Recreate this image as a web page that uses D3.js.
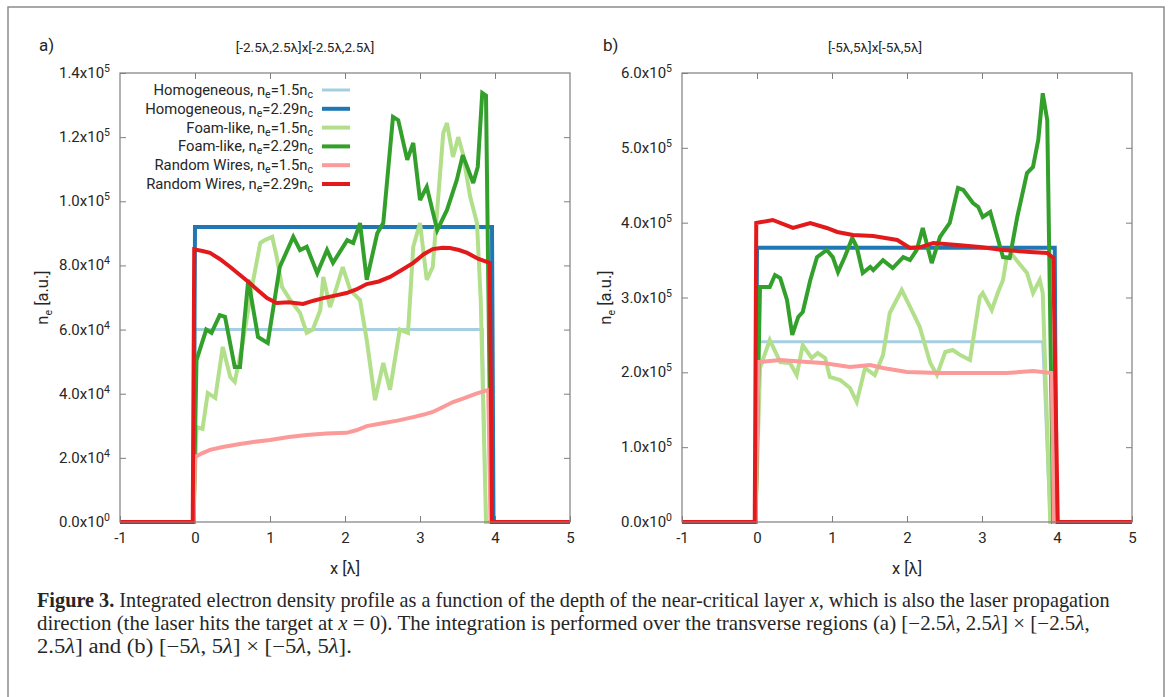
<!DOCTYPE html>
<html>
<head>
<meta charset="utf-8">
<script src="https://cdn.jsdelivr.net/npm/d3@7"></script>
<style>
  body { margin: 0; background: #fff; }
  svg text { font-family: Roboto, "Noto Sans", sans-serif; fill: #262626; }
</style>
</head>
<body>
<svg id="fig" width="1169" height="697"></svg>
<script>
// ---- shared axis settings ----
const xTicks = [-1, 0, 1, 2, 3, 4, 5];
const leftYTicks = [0, 2e4, 4e4, 6e4, 8e4, 1e5, 1.2e5, 1.4e5];
const rightYTicks = [0, 1e5, 2e5, 3e5, 4e5, 5e5, 6e5];

// legend labels: [prefix, density]
const seriesLabels = [
  ["Homogeneous", "1.5"],
  ["Homogeneous", "2.29"],
  ["Foam-like", "1.5"],
  ["Foam-like", "2.29"],
  ["Random Wires", "1.5"],
  ["Random Wires", "2.29"]
];
const seriesColors = ["#a6cee3", "#1f78b4", "#b2df8a", "#33a02c", "#fb9a99", "#e31a1c"];
const seriesWidths = [3, 4, 4, 4, 4, 4];

// ---- panel a) [-2.5λ,2.5λ]x[-2.5λ,2.5λ] : [x (λ), n_e] ----
const aHomo15 = [[-1,0],[-0.02,0],[0,60000],[3.83,60000],[3.88,0],[5,0]];
const aHomo229 = [[-1,0],[-0.02,0],[0,92000],[3.96,92000],[3.98,0],[5,0]];
const aFoam15 = [[-1,0],[-0.02,0],[0.02,29600],[0.1,29000],[0.17,40200],[0.27,38700],[0.37,54600],
  [0.47,45200],[0.53,43700],[0.63,55000],[0.76,73300],[0.87,87000],[0.93,87900],[1.03,88900],
  [1.09,82600],[1.16,73300],[1.27,69200],[1.4,65200],[1.49,59000],[1.57,60000],[1.67,66000],
  [1.71,76400],[1.8,67000],[1.89,73300],[1.97,79500],[2.07,72300],[2.2,69200],[2.29,56700],
  [2.4,38000],[2.51,49600],[2.6,41200],[2.73,60000],[2.84,59000],[2.91,85800],[3.0,93200],
  [3.09,75500],[3.17,79500],[3.31,121300],[3.36,124400],[3.44,113800],[3.51,120000],[3.57,115000],
  [3.67,101300],[3.76,93200],[3.81,69000],[3.88,0],[5,0]];
const aFoam229 = [[-1,0],[-0.02,0],[0.02,50500],[0.15,60000],[0.22,59000],[0.33,64500],[0.4,64000],
  [0.53,48300],[0.6,48300],[0.71,75500],[0.84,57700],[0.97,55800],[1.13,79500],[1.31,88900],
  [1.4,84800],[1.49,85800],[1.63,77600],[1.76,84800],[1.84,80800],[2.03,87900],[2.11,87000],
  [2.2,93200],[2.29,75500],[2.43,90000],[2.51,93200],[2.64,126300],[2.71,125300],[2.83,112900],
  [2.91,118200],[3.0,100400],[3.09,104500],[3.23,91000],[3.36,97300],[3.49,106600],[3.57,114400],
  [3.71,105700],[3.77,110700],[3.83,133800],[3.88,133000],[3.95,0],[5,0]];
const aWires15 = [[-1,0],[-0.02,0],[0,20300],[0.1,21500],[0.2,22500],[0.37,23400],[0.6,24300],
  [0.8,25000],[1.0,25600],[1.25,26500],[1.49,27100],[1.75,27600],[2.02,27800],[2.15,28600],
  [2.29,29900],[2.5,30800],[2.7,31600],[2.91,32700],[3.05,33500],[3.17,34300],[3.3,35800],
  [3.44,37400],[3.6,38700],[3.75,40000],[3.91,41200],[3.94,0],[5,0]];
const aWires229 = [[-1,0],[-0.03,0],[-0.01,85000],[0.1,84500],[0.2,83900],[0.33,82000],[0.47,79500],
  [0.6,77000],[0.73,74500],[0.85,72000],[0.96,69800],[1.09,68300],[1.25,68500],[1.44,68000],
  [1.58,69000],[1.71,69800],[1.85,70500],[2.02,71400],[2.15,72500],[2.29,74200],[2.45,75000],
  [2.6,76400],[2.75,78500],[2.91,80800],[3.05,83500],[3.17,85100],[3.3,85500],[3.4,85400],
  [3.52,84800],[3.63,83900],[3.78,82000],[3.93,80800],[3.96,0],[5,0]];

// ---- panel b) [-5λ,5λ]x[-5λ,5λ] ----
const bHomo15 = [[-1,0],[-0.02,0],[0,241000],[3.81,241000],[3.91,0],[5,0]];
const bHomo229 = [[-1,0],[-0.02,0],[0,366500],[3.97,366500],[3.99,0],[5,0]];
const bFoam15 = [[-1,0],[-0.02,0],[0.04,205800],[0.17,243200],[0.31,213800],[0.44,212500],
  [0.53,196400],[0.61,236500],[0.73,219000],[0.81,225800],[0.91,219000],[0.97,193800],
  [1.11,189800],[1.24,179000],[1.33,160400],[1.44,205800],[1.57,196400],[1.68,223000],
  [1.77,279300],[1.93,310000],[2.08,279300],[2.17,260600],[2.31,212500],[2.4,196400],
  [2.51,227200],[2.61,229800],[2.71,223000],[2.84,216500],[2.97,300700],[3.01,306000],
  [3.13,283300],[3.21,306000],[3.28,323400],[3.33,354000],[3.41,356000],[3.6,332700],
  [3.68,306000],[3.77,323400],[3.81,306000],[3.91,0],[5,0]];
const bFoam229 = [[-1,0],[-0.02,0],[0.04,314000],[0.17,314000],[0.24,330000],[0.31,326000],
  [0.4,296700],[0.47,250000],[0.55,274000],[0.61,280600],[0.71,323000],[0.8,354000],
  [0.93,363500],[1.01,354000],[1.08,334000],[1.17,354000],[1.27,379500],[1.33,367500],
  [1.41,332700],[1.51,340800],[1.55,336700],[1.68,350000],[1.81,339400],[1.95,354000],
  [2.04,350000],[2.13,363500],[2.21,392900],[2.33,346000],[2.44,381000],[2.57,399600],
  [2.68,446300],[2.75,443700],[2.88,426300],[2.95,421000],[3.01,407600],[3.11,414300],
  [3.28,354000],[3.37,352800],[3.47,407600],[3.6,466400],[3.68,474400],[3.75,510500],
  [3.81,573000],[3.87,537000],[3.95,0],[5,0]];
const bWires15 = [[-1,0],[-0.02,0],[0.02,213800],[0.31,216500],[0.67,213800],[0.88,212500],
  [1.24,207000],[1.51,209800],[1.68,205800],[2.0,200500],[2.44,199100],[2.88,199100],
  [3.33,199100],[3.68,201800],[3.93,199000],[3.96,0],[5,0]];
const bWires229 = [[-1,0],[-0.03,0],[-0.01,399600],[0.21,403600],[0.48,392900],[0.71,399600],
  [0.93,392900],[1.07,387600],[1.28,383500],[1.55,382200],[1.87,376800],[2.04,366200],
  [2.17,367000],[2.35,372800],[2.67,370200],[2.97,367500],[3.28,363500],[3.64,360800],
  [3.87,359500],[3.95,352800],[4.01,0],[5,0]];

const svg = d3.select("#fig");
const FS = 15;      // tick label font size
const LFS = 16.5;   // axis title font size
const SUP = 10.5;   // super/subscript size

// outer figure frame
svg.append("rect")
  .attr("x", 8).attr("y", 7).attr("width", 1156).attr("height", 720)
  .attr("fill", "none").attr("stroke", "#8c8c8c").attr("stroke-width", 1.5);

function expLabel(sel, v) {
  const e = v === 0 ? 0 : Math.floor(Math.log10(v) + 1e-9);
  const m = (v / Math.pow(10, e)).toFixed(1);
  sel.text(null);
  sel.append("tspan").text(m + "x10");
  sel.append("tspan").attr("dy", -6).attr("font-size", SUP).text(e);
}

function drawPanel(cfg) {
  const top = 73, bottom = 522;
  const x = d3.scaleLinear().domain([-1, 5]).range([cfg.left, cfg.right]);
  const y = d3.scaleLinear().domain([0, cfg.yMax]).range([bottom, top]);
  const g = svg.append("g");

  // inward ticks on all four sides
  const axes = [
    [d3.axisBottom(x).tickValues(xTicks).tickFormat(d => d < 0 ? "-" + Math.abs(d) : String(d)), `translate(0,${bottom})`],
    [d3.axisTop(x).tickValues(xTicks.slice(1, -1)).tickFormat(""), `translate(0,${top})`],
    [d3.axisLeft(y).tickValues(cfg.yTicks).tickFormat(""), `translate(${cfg.left},0)`],
    [d3.axisRight(y).tickValues(cfg.yTicks.slice(1, -1)).tickFormat(""), `translate(${cfg.right},0)`]
  ];
  axes.forEach(([ax, tr], i) => {
    const a = g.append("g").attr("transform", tr)
      .call(ax.tickSize(-6).tickSizeOuter(0).tickPadding(i === 0 ? 14 : 3));
    a.select(".domain").remove();
    a.selectAll(".tick line").attr("stroke", "#7f7f7f").attr("stroke-width", 1);
    a.selectAll("text").attr("font-size", FS).attr("fill", "#262626")
      .attr("font-family", "Roboto, sans-serif");
  });
  g.selectAll(".tick text").filter(function () { return this.textContent !== ""; })
    .attr("dy", "0.45em");

  // y tick labels with exponent superscripts
  g.append("g").selectAll("text").data(cfg.yTicks).join("text")
    .attr("x", cfg.left - 10).attr("y", d => y(d) + 5)
    .attr("text-anchor", "end").attr("font-size", FS)
    .each(function (d) { expLabel(d3.select(this), d); });

  // curves, drawn in legend order
  const line = d3.line().x(d => x(d[0])).y(d => y(d[1]));
  cfg.series.forEach((s, i) => {
    g.append("path").datum(s)
      .attr("d", line).attr("fill", "none")
      .attr("stroke", seriesColors[i]).attr("stroke-width", seriesWidths[i])
      .attr("stroke-linejoin", "miter").attr("stroke-miterlimit", 3);
  });

  // plot border
  g.append("rect")
    .attr("x", cfg.left).attr("y", top)
    .attr("width", cfg.right - cfg.left).attr("height", bottom - top)
    .attr("fill", "none").attr("stroke", "#7f7f7f").attr("stroke-width", 1.2);

  // axis titles
  const yl = g.append("text")
    .attr("transform", `translate(${cfg.yLabelX},${(top + bottom) / 2}) rotate(-90)`)
    .attr("text-anchor", "middle").attr("font-size", LFS);
  yl.append("tspan").text("n");
  yl.append("tspan").attr("dy", 4).attr("font-size", SUP).text("e");
  yl.append("tspan").attr("dy", -4).text(" [a.u.]");

  g.append("text").attr("x", (cfg.left + cfg.right) / 2).attr("y", 574)
    .attr("text-anchor", "middle").attr("font-size", LFS).text("x [λ]");

  g.append("text").attr("x", cfg.titleX).attr("y", 52)
    .attr("text-anchor", "middle").attr("font-size", 13.5).text(cfg.title);
  g.append("text").attr("x", cfg.tagX).attr("y", 51)
    .attr("font-size", 17).text(cfg.tag);

  return { x, y, g };
}

const pa = drawPanel({
  left: 120, right: 570, yMax: 1.4e5, yTicks: leftYTicks,
  series: [aHomo15, aHomo229, aFoam15, aFoam229, aWires15, aWires229],
  yLabelX: 48, title: "[-2.5λ,2.5λ]x[-2.5λ,2.5λ]", titleX: 305, tag: "a)", tagX: 39
});
drawPanel({
  left: 682, right: 1132, yMax: 6e5, yTicks: rightYTicks,
  series: [bHomo15, bHomo229, bFoam15, bFoam229, bWires15, bWires229],
  yLabelX: 611, title: "[-5λ,5λ]x[-5λ,5λ]", titleX: 875, tag: "b)", tagX: 603
});

// legend (panel a)
const leg = pa.g.append("g");
seriesLabels.forEach((lab, i) => {
  const yy = 90 + i * 18.8;
  const t = leg.append("text").attr("x", 313).attr("y", yy + 5)
    .attr("text-anchor", "end").attr("font-size", 14.8);
  t.append("tspan").text(lab[0] + ", n");
  t.append("tspan").attr("dy", 3).attr("font-size", SUP).text("e");
  t.append("tspan").attr("dy", -3).text("=" + lab[1] + "n");
  t.append("tspan").attr("dy", 3).attr("font-size", SUP).text("c");
  leg.append("line").attr("x1", 322).attr("x2", 350).attr("y1", yy).attr("y2", yy)
    .attr("stroke", seriesColors[i]).attr("stroke-width", seriesWidths[i]);
});

// caption
const capLines = [
  { y: 607, width: 1073, parts: [["b", "Figure 3."], ["", " Integrated electron density profile as a function of the depth of the near-critical layer "], ["i", "x"], ["", ", which is also the laser propagation"]] },
  { y: 630, width: 1053, parts: [["", "direction (the laser hits the target at "], ["i", "x"], ["", " = 0). The integration is performed over the transverse regions (a) [−2.5"], ["i", "λ"], ["", ", 2.5"], ["i", "λ"], ["", "] × [−2.5"], ["i", "λ"], ["", ","]] },
  { y: 653, width: 315, parts: [["", "2.5"], ["i", "λ"], ["", "] and (b) [−5"], ["i", "λ"], ["", ", 5"], ["i", "λ"], ["", "] × [−5"], ["i", "λ"], ["", ", 5"], ["i", "λ"], ["", "]."]] }
];
capLines.forEach(cl => {
  const t = svg.append("text").attr("x", 0).attr("y", 0)
    .style("font-family", "'Liberation Serif', 'DejaVu Serif', serif")
    .attr("font-size", 20).attr("fill", "#111");
  cl.parts.forEach(p => {
    const ts = t.append("tspan").text(p[1]);
    if (p[0] === "b") ts.attr("font-weight", "bold");
    if (p[0] === "i") ts.attr("font-style", "italic");
  });
  const w = t.node().getComputedTextLength();
  t.attr("transform", `translate(37,${cl.y}) scale(${cl.width / w},1)`);
});
</script>
</body>
</html>
